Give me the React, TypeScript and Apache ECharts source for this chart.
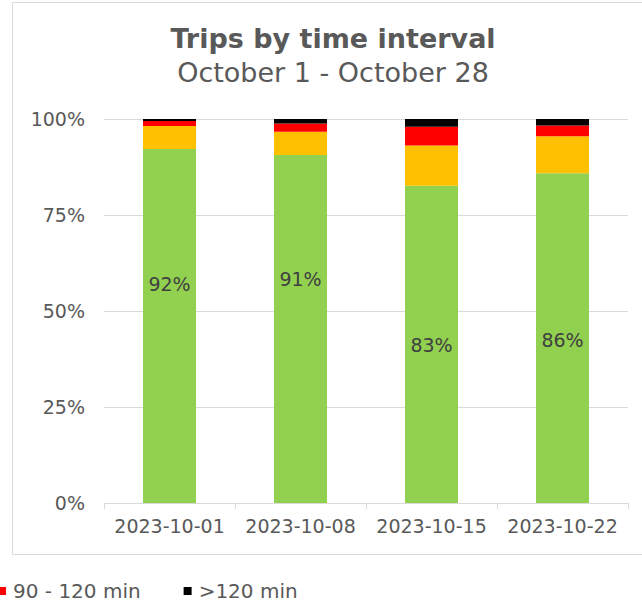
import React, { useEffect, useRef } from "react";
import * as echarts from "echarts";

const categories = ["2023-10-01", "2023-10-08", "2023-10-15", "2023-10-22"];
const seriesNames = ["<60 min", "60 - 90 min", "90 - 120 min", ">120 min"];
const under60 = [92.2, 90.6, 82.6, 85.9];
const from60to90 = [6.0, 6.1, 10.5, 9.6];
const from90to120 = [1.3, 2.1, 4.9, 2.8];
const over120 = [0.5, 1.2, 2.0, 1.7];
const yTicks = [0, 25, 50, 75, 100];

const colors = ["#92d050", "#ffc000", "#ff0000", "#000000"];
const labelShift = [-42, -50, 1, 2];

export default function App() {
  const ref = useRef<HTMLDivElement>(null);
  useEffect(() => {
    if (!ref.current) return;
    const chart = echarts.init(ref.current, null, { renderer: "svg" });
    const font = "DejaVu Sans";
    const values = [under60, from60to90, from90to120, over120];
    const series = values.map((vals, si) => ({
      name: seriesNames[si],
      type: "bar",
      stack: "total",
      barWidth: 53,
      itemStyle: { color: colors[si] },
      data: vals.map((v, i) =>
        si === 0
          ? {
              value: v,
              label: {
                show: true,
                position: "inside",
                offset: [0, labelShift[i]],
                formatter: (p: any) => Math.round(p.value) + "%",
                color: "#404040",
                fontSize: 19,
                fontFamily: font,
              },
            }
          : v
      ),
    }));
    chart.setOption({
      animation: false,
      backgroundColor: "#ffffff",
      title: [
        {
          text: "Trips by time interval",
          left: 328,
          textAlign: "center",
          top: 20,
          textStyle: { fontFamily: font, fontSize: 27, fontWeight: "bold", color: "#595959" },
        },
        {
          text: "October 1 - October 28",
          left: 328,
          textAlign: "center",
          top: 54,
          textStyle: { fontFamily: font, fontSize: 27, fontWeight: "normal", color: "#595959" },
        },
      ],
      graphic: [
        {
          type: "rect",
          shape: { x: 12.5, y: 2.5, width: 700, height: 552 },
          style: { fill: "none", stroke: "#d9d9d9", lineWidth: 1 },
          silent: true,
          z: -1,
        },
      ],
      legend: {
        data: ["90 - 120 min", ">120 min"],
        left: -7,
        top: 576,
        icon: "rect",
        itemWidth: 8,
        itemHeight: 8,
        itemGap: 43,
        textStyle: { fontFamily: font, fontSize: 20, color: "#595959", padding: [0, 0, 0, 2] },
      },
      grid: { left: 104, right: 14, top: 119, bottom: 100, containLabel: false },
      xAxis: {
        type: "category",
        data: categories,
        axisLine: { lineStyle: { color: "#d9d9d9", width: 1 } },
        axisTick: { show: true, length: 6, lineStyle: { color: "#d9d9d9" } },
        axisLabel: { interval: 0, fontFamily: font, fontSize: 19, color: "#595959", margin: 13 },
      },
      yAxis: {
        type: "value",
        min: yTicks[0],
        max: yTicks[yTicks.length - 1],
        interval: 25,
        axisLine: { show: false },
        axisTick: { show: false },
        splitLine: { lineStyle: { color: "#d9d9d9", width: 1 } },
        axisLabel: { formatter: "{value}%", fontFamily: font, fontSize: 19, color: "#595959", margin: 19 },
      },
      series,
    });
    return () => chart.dispose();
  }, []);
  return (
    <div
      ref={ref}
      style={{ position: "fixed", left: 0, top: 0, width: 642, height: 603 }}
    />
  );
}
